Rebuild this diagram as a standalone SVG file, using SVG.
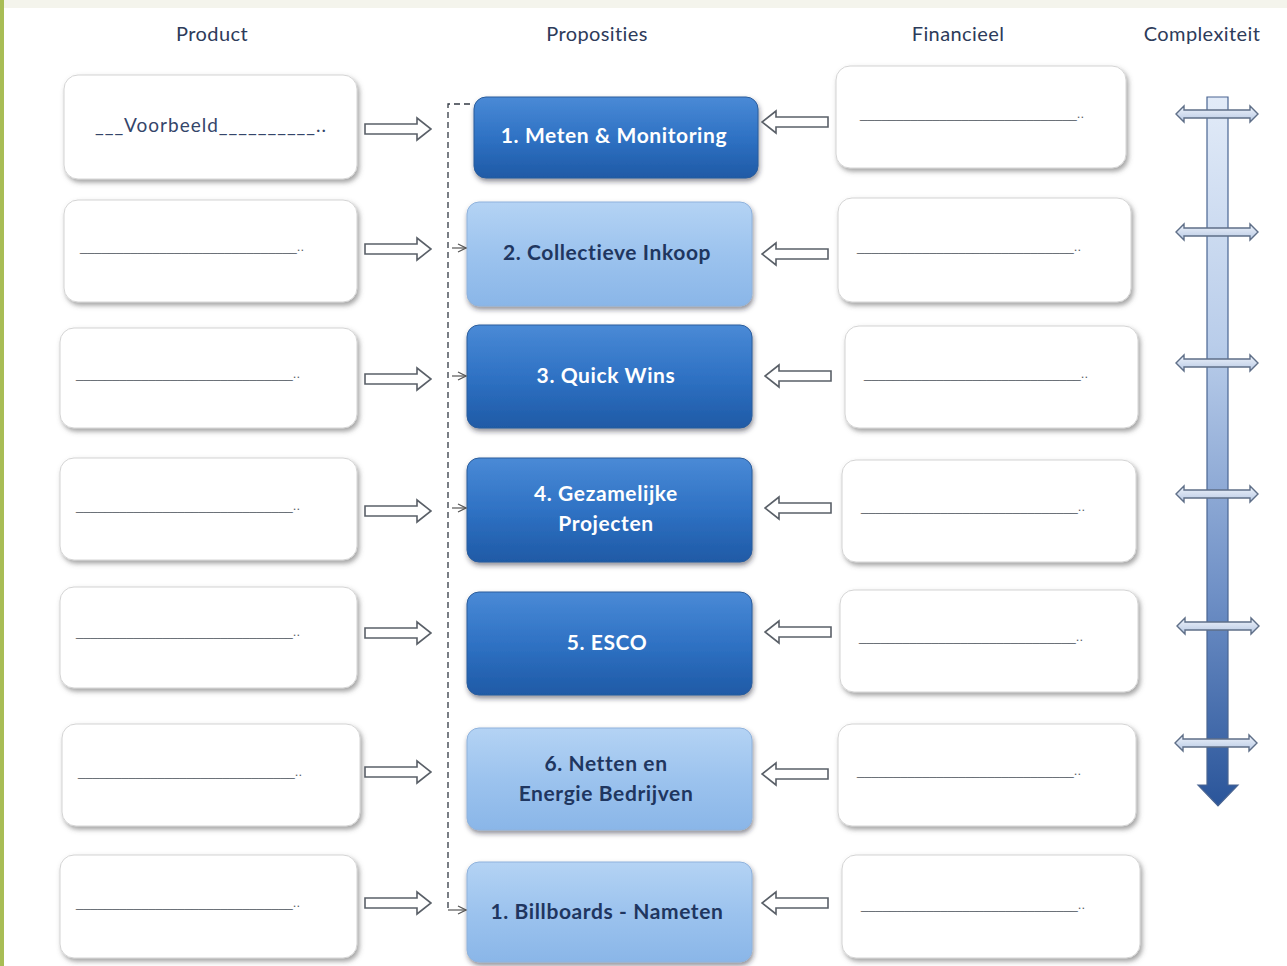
<svg xmlns="http://www.w3.org/2000/svg" width="1287" height="966" viewBox="0 0 1287 966">
<defs>
  <linearGradient id="gDark" x1="0" y1="0" x2="0" y2="1">
    <stop offset="0" stop-color="#4a8ad6"/>
    <stop offset="0.5" stop-color="#2f72c4"/>
    <stop offset="1" stop-color="#1f5aa6"/>
  </linearGradient>
  <linearGradient id="gLight" x1="0" y1="0" x2="0" y2="1">
    <stop offset="0" stop-color="#b4d3f4"/>
    <stop offset="0.5" stop-color="#9cc3ee"/>
    <stop offset="1" stop-color="#8ab6e8"/>
  </linearGradient>
  <linearGradient id="gBar" x1="0" y1="0" x2="0" y2="1">
    <stop offset="0" stop-color="#e2ebf8"/>
    <stop offset="0.35" stop-color="#b9cdea"/>
    <stop offset="0.7" stop-color="#6f90c6"/>
    <stop offset="1" stop-color="#2a559a"/>
  </linearGradient>
  <linearGradient id="gH" x1="0" y1="0" x2="0" y2="1">
    <stop offset="0" stop-color="#eef3fb"/>
    <stop offset="1" stop-color="#b8c9e4"/>
  </linearGradient>
  <filter id="sh" x="-10%" y="-10%" width="125%" height="135%">
    <feDropShadow dx="2" dy="3" stdDeviation="2.5" flood-color="#555" flood-opacity="0.55"/>
  </filter>
  <filter id="shB" x="-10%" y="-10%" width="125%" height="135%">
    <feDropShadow dx="1" dy="3" stdDeviation="2.5" flood-color="#223" flood-opacity="0.5"/>
  </filter>
  <marker id="small" viewBox="0 0 10 10" refX="9" refY="5" markerWidth="10" markerHeight="10" markerUnits="userSpaceOnUse" orient="auto">
    <path d="M1,1 L9,5 L1,9" fill="none" stroke="#555" stroke-width="1.2"/>
  </marker>
  <path id="arR" d="M0,-5 H52 V-11 L66,0 L52,11 V5 H0 Z"/>
  <path id="arL" d="M66,-5 H14 V-11 L0,0 L14,11 V5 H66 Z"/>
  <path id="dbl" d="M-41,0 L-33,-8 V-4 H33 V-8 L41,0 L33,8 V4 H-33 V8 Z"/>
</defs>
<style>
  .wbox{fill:#ffffff;stroke:#d4d4d4;stroke-width:1;filter:url(#sh)}
  .dbox{fill:url(#gDark);stroke:#2b5c9c;stroke-width:1;filter:url(#shB)}
  .lbox{fill:url(#gLight);stroke:#8fb2dc;stroke-width:1;filter:url(#shB)}
  .hdr{font-family:"Lato","Liberation Sans",sans-serif;font-size:20px;letter-spacing:0.4px;fill:#2d3b5a;text-anchor:middle}
  .dl{font-family:"Liberation Sans",sans-serif;font-size:13px;fill:#585e66;text-anchor:middle}
  .vb{font-family:"Lato","Liberation Sans",sans-serif;font-size:19px;letter-spacing:1px;fill:#34456a;text-anchor:middle}
  .tw{font-family:"Lato","Liberation Sans",sans-serif;font-size:21px;letter-spacing:0.6px;font-weight:bold;fill:#ffffff;text-anchor:middle}
  .tn{font-family:"Lato","Liberation Sans",sans-serif;font-size:21px;letter-spacing:0.6px;font-weight:bold;fill:#1f3660;text-anchor:middle}
  .blk{fill:#ffffff;stroke:#5a6068;stroke-width:1.6}
  .dbl{fill:url(#gH);stroke:#5f6f88;stroke-width:1.4}
  .dash{fill:none;stroke:#333a44;stroke-width:1.3;stroke-dasharray:6,4}
  .tick{fill:none;stroke:#555;stroke-width:1.2}
</style>
<rect width="1287" height="966" fill="#ffffff"/>
<rect width="1287" height="8" fill="#f4f4ec"/>
<rect x="0" y="0" width="4" height="966" fill="#a8bd55"/>

<g id="headers">
  <text class="hdr" x="212" y="41">Product</text>
  <text class="hdr" x="597" y="41">Proposities</text>
  <text class="hdr" x="958" y="41">Financieel</text>
  <text class="hdr" x="1202" y="41">Complexiteit</text>
</g>

<g id="product">
  <g id="p1"><rect class="wbox" x="64" y="75" width="293" height="104" rx="14"/><text class="vb" x="211" y="132">___Voorbeeld__________..</text></g>
  <g id="p2"><rect class="wbox" x="64" y="200" width="293" height="102" rx="14"/><text class="dl" x="192" y="251">______________________________..</text></g>
  <g id="p3"><rect class="wbox" x="60" y="328" width="297" height="100" rx="14"/><text class="dl" x="188" y="378">______________________________..</text></g>
  <g id="p4"><rect class="wbox" x="60" y="458" width="297" height="102" rx="14"/><text class="dl" x="188" y="510">______________________________..</text></g>
  <g id="p5"><rect class="wbox" x="60" y="587" width="297" height="101" rx="14"/><text class="dl" x="188" y="636">______________________________..</text></g>
  <g id="p6"><rect class="wbox" x="62" y="724" width="298" height="102" rx="14"/><text class="dl" x="190" y="776">______________________________..</text></g>
  <g id="p7"><rect class="wbox" x="60" y="855" width="297" height="103" rx="14"/><text class="dl" x="188" y="907">______________________________..</text></g>
</g>

<g id="financieel">
  <g id="f1"><rect class="wbox" x="836" y="66" width="290" height="102" rx="14"/><text class="dl" x="972" y="118">______________________________..</text></g>
  <g id="f2"><rect class="wbox" x="838" y="198" width="293" height="104" rx="14"/><text class="dl" x="969" y="251">______________________________..</text></g>
  <g id="f3"><rect class="wbox" x="845" y="326" width="293" height="102" rx="14"/><text class="dl" x="976" y="378">______________________________..</text></g>
  <g id="f4"><rect class="wbox" x="842" y="460" width="294" height="102" rx="14"/><text class="dl" x="973" y="511">______________________________..</text></g>
  <g id="f5"><rect class="wbox" x="840" y="590" width="298" height="102" rx="14"/><text class="dl" x="971" y="641">______________________________..</text></g>
  <g id="f6"><rect class="wbox" x="838" y="724" width="298" height="102" rx="14"/><text class="dl" x="969" y="775">______________________________..</text></g>
  <g id="f7"><rect class="wbox" x="842" y="855" width="298" height="103" rx="14"/><text class="dl" x="973" y="909">______________________________..</text></g>
</g>

<g id="proposities">
  <g id="m1"><rect class="dbox" x="474" y="97" width="284" height="81" rx="12"/><text class="tw" x="614" y="143">1. Meten &amp; Monitoring</text></g>
  <g id="m2"><rect class="lbox" x="467" y="202" width="285" height="104" rx="12"/><text class="tn" x="607" y="260">2. Collectieve Inkoop</text></g>
  <g id="m3"><rect class="dbox" x="467" y="325" width="285" height="103" rx="12"/><text class="tw" x="606" y="383">3. Quick  Wins</text></g>
  <g id="m4"><rect class="dbox" x="467" y="458" width="285" height="104" rx="12"/><text class="tw" x="606" y="501">4. Gezamelijke</text><text class="tw" x="606" y="531">Projecten</text></g>
  <g id="m5"><rect class="dbox" x="467" y="592" width="285" height="103" rx="12"/><text class="tw" x="607" y="650">5. ESCO</text></g>
  <g id="m6"><rect class="lbox" x="467" y="728" width="285" height="102" rx="12"/><text class="tn" x="606" y="771">6. Netten en</text><text class="tn" x="606" y="801">Energie Bedrijven</text></g>
  <g id="m7"><rect class="lbox" x="467" y="862" width="285" height="100" rx="12"/><text class="tn" x="607" y="919">1. Billboards  - Nameten</text></g>
</g>

<g id="connectors">
  <use href="#arR" class="blk" x="365" y="129"/>
  <use href="#arR" class="blk" x="365" y="249"/>
  <use href="#arR" class="blk" x="365" y="379"/>
  <use href="#arR" class="blk" x="365" y="511"/>
  <use href="#arR" class="blk" x="365" y="633"/>
  <use href="#arR" class="blk" x="365" y="772"/>
  <use href="#arR" class="blk" x="365" y="903"/>
  <use href="#arL" class="blk" x="762" y="122"/>
  <use href="#arL" class="blk" x="762" y="254"/>
  <use href="#arL" class="blk" x="765" y="376"/>
  <use href="#arL" class="blk" x="765" y="508"/>
  <use href="#arL" class="blk" x="765" y="632"/>
  <use href="#arL" class="blk" x="762" y="774"/>
  <use href="#arL" class="blk" x="762" y="903"/>
  <path class="dash" d="M470,104 H448 V910"/>
  <path class="tick" d="M448,910 H466" marker-end="url(#small)"/>
  <path class="tick" d="M452,248 H466" marker-end="url(#small)"/>
  <path class="tick" d="M452,376 H466" marker-end="url(#small)"/>
  <path class="tick" d="M452,508 H466" marker-end="url(#small)"/>
</g>

<g id="complexiteit">
  <path d="M1207,97 H1228 V785 H1238 L1218,806 L1198,785 H1207 Z" fill="url(#gBar)" stroke="#4a6592" stroke-width="1.2"/>
  <use href="#dbl" class="dbl" x="1217" y="114"/>
  <use href="#dbl" class="dbl" x="1217" y="232"/>
  <use href="#dbl" class="dbl" x="1217" y="363"/>
  <use href="#dbl" class="dbl" x="1217" y="494"/>
  <use href="#dbl" class="dbl" x="1218" y="626"/>
  <use href="#dbl" class="dbl" x="1216" y="743"/>
</g>
</svg>
